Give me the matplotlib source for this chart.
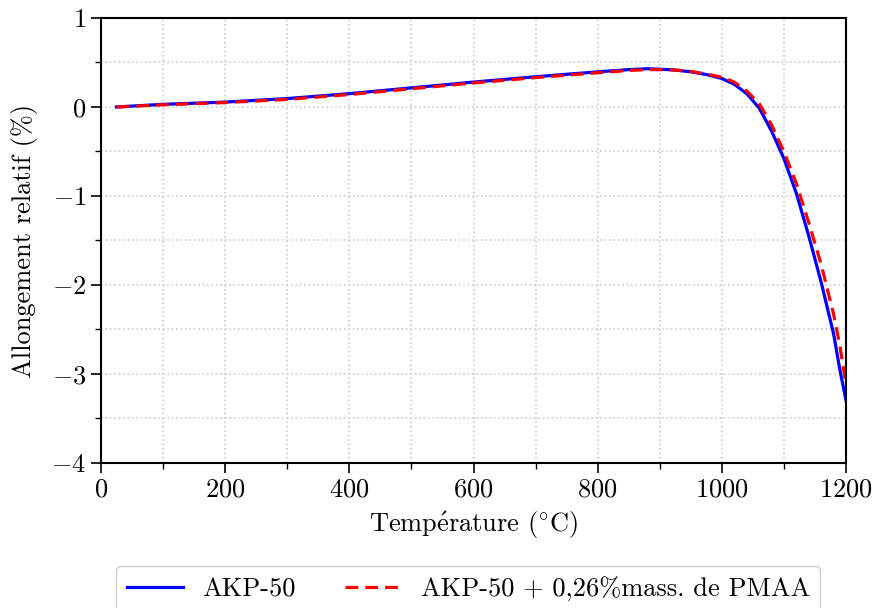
import matplotlib
matplotlib.use("Agg")
import matplotlib.pyplot as plt
from matplotlib.ticker import MultipleLocator

# temperatures (°C)
temp = [25, 100, 200, 300, 400, 500, 600, 700, 800, 850, 880, 900, 925, 950,
        975, 1000, 1020, 1040, 1060, 1080, 1100, 1120, 1140, 1160, 1180,
        1190, 1200]

# relative elongation (%)
akp50 = [0.0, 0.03, 0.055, 0.095, 0.15, 0.215, 0.28, 0.34, 0.395, 0.42,
         0.43, 0.425, 0.415, 0.395, 0.365, 0.32, 0.255, 0.15, -0.01, -0.27,
         -0.58, -0.97, -1.45, -1.97, -2.55, -2.95, -3.3]
akp50_pmaa = [0.0, 0.025, 0.05, 0.085, 0.14, 0.205, 0.27, 0.33, 0.385, 0.41,
              0.42, 0.42, 0.415, 0.40, 0.37, 0.335, 0.28, 0.18, 0.04, -0.20,
              -0.50, -0.86, -1.30, -1.77, -2.33, -2.68, -3.12]

labels = ["AKP-50", "AKP-50 + 0,26%mass. de PMAA"]

plt.rcParams['font.family'] = ['cmr10', 'DejaVu Serif']
plt.rcParams['mathtext.fontset'] = 'cm'
plt.rcParams['axes.formatter.use_mathtext'] = True
plt.rcParams['font.size'] = 19

fig = plt.figure(figsize=(8.75, 6.08), dpi=100)
ax = fig.add_axes([0.1154, 0.2385, 0.8515, 0.7319])

ax.plot(temp, akp50, color='blue', lw=2.3, label=labels[0])
ax.plot(temp, akp50_pmaa, color='red', lw=2.3, ls=(0, (4, 2.2)), label=labels[1])

ax.set_xlim(0, 1200)
ax.set_ylim(-4, 1)
ax.xaxis.set_major_locator(MultipleLocator(200))
ax.xaxis.set_minor_locator(MultipleLocator(100))
ax.yaxis.set_major_locator(MultipleLocator(1))
ax.yaxis.set_minor_locator(MultipleLocator(0.5))
ax.tick_params(which='major', length=7, width=1.2)
ax.tick_params(which='minor', length=4, width=1.0)
for s in ax.spines.values():
    s.set_linewidth(1.5)
ax.grid(True, which='both', color='#cccccc', ls=':', lw=1.2)

ax.set_xlabel(r"Temp$\mathrm{\acute{e}}$rature ($^{\circ}$C)", labelpad=6)
ax.set_ylabel("Allongement relatif (%)", labelpad=10)

ax.legend(loc='upper center', bbox_to_anchor=(0.493, -0.2315), ncol=2,
          borderaxespad=0, fancybox=True, framealpha=1, edgecolor='#cccccc',
          handlelength=2.15, handletextpad=0.7, columnspacing=1.9)

fig.savefig("out.png", dpi=100)
